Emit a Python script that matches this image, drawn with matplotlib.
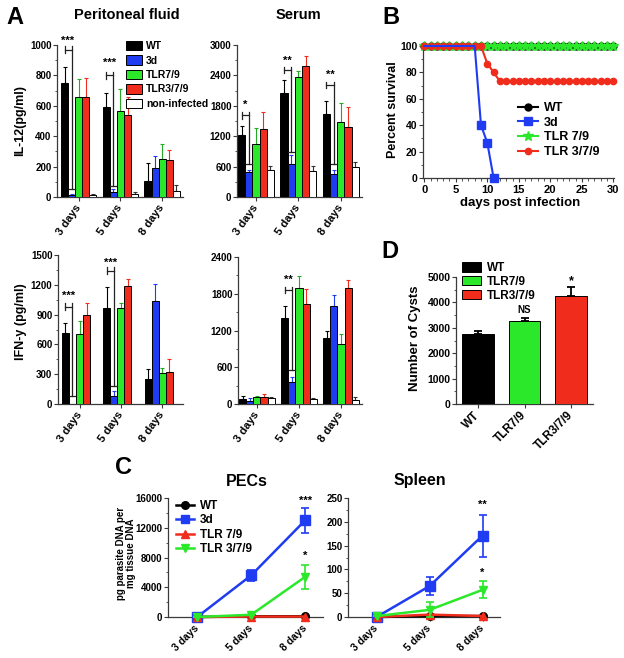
import numpy as np
import matplotlib
matplotlib.use('Agg')
import matplotlib.pyplot as plt
from matplotlib.patches import Patch
from matplotlib.lines import Line2D
from matplotlib.ticker import MultipleLocator

plt.rcParams['font.family'] = ['Liberation Sans', 'DejaVu Sans']
plt.rcParams['font.weight'] = 'bold'
plt.rcParams['axes.labelweight'] = 'bold'

W, H = 624, 658

# ---- panel A: cytokines (rows = groups, cols = days) ----
days = ['3 days', '5 days', '8 days']
groups_a = ['WT', '3d', 'TLR7/9', 'TLR3/7/9', 'non-infected']

il12_pf_mean = [[752, 589, 105], [15, 30, 193], [660, 565, 253], [660, 538, 242], [12, 20, 37]]
il12_pf_sem = [[105, 97, 121], [8, 20, 75], [116, 143, 94], [120, 117, 70], [8, 15, 44]]

il12_serum_mean = [[1220, 2044, 1648], [495, 660, 462], [1055, 2374, 1484], [1338, 2585, 1385], [541, 508, 587]]
il12_serum_sem = [[178, 264, 244], [46, 164, 65], [316, 112, 375], [343, 197, 395], [72, 99, 99]]

ifn_pf_mean = [[718, 963, 252], [0, 80, 1037], [701, 963, 315], [896, 1188, 325], [0, 0, 0]]
ifn_pf_sem = [[94, 211, 97], [0, 54, 171], [135, 57, 44], [124, 70, 125], [0, 0, 0]]

ifn_serum_mean = [[82, 1402, 1075], [55, 365, 1593], [115, 1887, 982], [109, 1631, 1898], [98, 76, 65]]
ifn_serum_sem = [[54, 202, 109], [38, 71, 180], [21, 208, 158], [49, 245, 131], [22, 28, 50]]

# ---- panel B: survival ----
surv_days = [0, 1, 2, 3, 4, 5, 6, 7, 8, 9, 10, 11, 12, 13, 14, 15,
             16, 17, 18, 19, 20, 21, 22, 23, 24, 25, 26, 27, 28, 29, 30]
surv_wt = [100, 100, 100, 100, 100, 100, 100, 100, 100, 100, 100, 100, 100, 100, 100, 100,
           100, 100, 100, 100, 100, 100, 100, 100, 100, 100, 100, 100, 100, 100, 100]
surv_tlr79 = [100, 100, 100, 100, 100, 100, 100, 100, 100, 100, 100, 100, 100, 100, 100, 100,
              100, 100, 100, 100, 100, 100, 100, 100, 100, 100, 100, 100, 100, 100, 100]
surv_tlr379 = [100, 100, 100, 100, 100, 100, 100, 100, 100, 100, 86.7, 80, 73.3, 73.3, 73.3, 73.3,
               73.3, 73.3, 73.3, 73.3, 73.3, 73.3, 73.3, 73.3, 73.3, 73.3, 73.3, 73.3, 73.3, 73.3, 73.3]
surv_3d_days = [0, 1, 2, 3, 4, 5, 6, 7, 8, 9, 10, 11]
surv_3d = [100, 100, 100, 100, 100, 100, 100, 100, 100, 40, 26.7, 0]

# ---- panel C: parasite load ----
pecs_wt = [0, 100, 100]
pecs_3d = [0, 5600, 13000]
pecs_3d_sem = [0, 700, 1700]
pecs_tlr79 = [0, 60, 60]
pecs_tlr379 = [0, 300, 5400]
pecs_tlr379_sem = [0, 0, 1600]

spleen_wt = [0, 2, 2]
spleen_3d = [0, 65, 171]
spleen_3d_sem = [0, 18, 44]
spleen_tlr79 = [0, 5, 2]
spleen_tlr379 = [2, 15, 57]
spleen_tlr379_sem = [0, 16, 18]

# ---- panel D: cysts ----
cyst_groups = ['WT', 'TLR7/9', 'TLR3/7/9']
cyst_mean = [2750, 3260, 4240]
cyst_sem = [110, 130, 360]

BLUE = '#1f3cf2'
GREEN = '#2be82b'
RED = '#f02c1c'
colors_a = ['black', BLUE, GREEN, RED, 'white']
err_colors = ['black', BLUE, '#22aa22', RED, '#333333']

fig = plt.figure(figsize=(W / 100, H / 100), dpi=100)


def add_ax(left, top, right, bottom):
    return fig.add_axes([left / W, 1 - bottom / H, (right - left) / W, (bottom - top) / H])


def prism(ax, size=7):
    ax.spines['top'].set_visible(False)
    ax.spines['right'].set_visible(False)
    for s in ('left', 'bottom'):
        ax.spines[s].set_linewidth(0.9)
        ax.spines[s].set_color('#3a3a3a')
    ax.tick_params(which='major', direction='out', length=3, width=0.8, color='#3a3a3a', labelsize=size, pad=1)
    ax.tick_params(which='minor', direction='out', length=1.8, width=0.6, color='#3a3a3a')


def ftext(x, y, s, **kw):
    return fig.text(x / W, 1 - y / H, s, ha='center', va='center', **kw)


def cytokine_panel(box, means, sems, ymax, ystep, xleft, sigs):
    ax = add_ax(*box)
    prism(ax)
    x = np.arange(len(days))
    w = 0.17
    for i in range(len(groups_a)):
        xs = x + (i - 2) * w
        m = np.array(means[i], dtype=float)
        s = np.array(sems[i], dtype=float)
        ax.bar(xs, m, w, color=colors_a[i], edgecolor='black', linewidth=0.7, zorder=3)
        keep = s > 0
        ax.errorbar(xs[keep], m[keep], yerr=[np.zeros(keep.sum()), s[keep]], fmt='none',
                    ecolor=err_colors[i], elinewidth=0.8, capsize=1.6, capthick=0.8, zorder=2)
    d = ymax * 0.022
    for g, yb, ylow, lab, ylab in sigs:
        x1, x2 = g - 2 * w, g - w
        kw = dict(color='#222222', lw=0.9, zorder=4, clip_on=False)
        ax.plot([x1, x2], [yb, yb], **kw)
        ax.plot([x1, x1], [yb - d, yb + d], **kw)
        ax.plot([x2, x2], [yb + d, ylow], **kw)
        ax.plot([x2 - 0.07, x2 + 0.07], [ylow, ylow], **kw)
        ax.text((x1 + x2) / 2, ylab, lab, ha='center', va='center', fontsize=8)
    ax.set_xlim(xleft, 2.5)
    ax.set_ylim(0, ymax)
    ax.yaxis.set_major_locator(MultipleLocator(ystep))
    ax.yaxis.set_minor_locator(MultipleLocator(ystep / 2))
    ax.set_xticks(x)
    ax.set_xticklabels(days, rotation=55, ha='right', va='center', rotation_mode='anchor', fontsize=8)
    ax.tick_params(axis='x', pad=3)
    return ax


# ---------------- A ----------------
cytokine_panel((57, 45, 183, 197), il12_pf_mean, il12_pf_sem, 1000, 200, -0.52,
               [(0, 970, 50, '***', 1030), (1, 800, 75, '***', 885)])
cytokine_panel((237, 45, 362, 197), il12_serum_mean, il12_serum_sem, 3000, 600, -0.45,
               [(0, 1615, 660, '*', 1810), (1, 2505, 890, '**', 2690), (2, 2209, 660, '**', 2410)])
cytokine_panel((58, 255, 183, 404), ifn_pf_mean, ifn_pf_sem, 1500, 300, -0.52,
               [(0, 980, 80, '***', 1090), (1, 1342, 185, '***', 1425)])
cytokine_panel((238, 257, 362, 404), ifn_serum_mean, ifn_serum_sem, 2400, 600, -0.45,
               [(1, 1865, 556, '**', 2020)])

ftext(15, 17, 'A', fontsize=17)
ftext(127, 15, 'Peritoneal fluid', fontsize=10.5)
ftext(298, 15, 'Serum', fontsize=10.5)
ftext(20, 121, 'IL-12(pg/ml)', rotation=90, fontsize=9)
ftext(21, 322, 'IFN-y (pg/ml)', rotation=90, fontsize=9)

handles_a = [Patch(facecolor=c, edgecolor='black', linewidth=0.7) for c in colors_a]
fig.legend(handles_a, groups_a, loc='upper left', bbox_to_anchor=(126 / W, 1 - 41 / H),
           frameon=False, fontsize=7.5, handlelength=1.5, handleheight=1.0,
           labelspacing=0.4, handletextpad=0.4, borderpad=0, borderaxespad=0)

# ---------------- B ----------------
axb = add_ax(423, 46, 614, 178)
prism(axb, 7.5)
axb.plot(surv_days, surv_wt, color='black', marker='o', ms=5, lw=1.5, zorder=2, clip_on=False)
axb.plot(surv_days, surv_tlr79, color=GREEN, marker='*', ms=7, lw=1.5, zorder=3, clip_on=False)
axb.plot(surv_days, surv_tlr379, color=RED, marker='o', ms=4.5, lw=1.5, zorder=4, clip_on=False)
axb.plot(surv_3d_days, surv_3d, color=BLUE, marker='s', ms=6, lw=1.5, zorder=5,
         markevery=[9, 10, 11], clip_on=False)
axb.set_xlim(-0.2, 30.1)
axb.set_ylim(0, 100)
axb.xaxis.set_major_locator(MultipleLocator(5))
axb.xaxis.set_minor_locator(MultipleLocator(1))
axb.yaxis.set_major_locator(MultipleLocator(20))
axb.yaxis.set_minor_locator(MultipleLocator(10))
axb.tick_params(axis='x', pad=2, labelsize=8)
ftext(520, 203, 'days post infection', fontsize=9.5)
ftext(393, 110, 'Percent survival', rotation=90, fontsize=9)
ftext(391, 18, 'B', fontsize=17)
handles_b = [Line2D([], [], color='black', marker='o', ms=5, lw=1.5),
             Line2D([], [], color=BLUE, marker='s', ms=6, lw=1.5),
             Line2D([], [], color=GREEN, marker='*', ms=7, lw=1.5),
             Line2D([], [], color=RED, marker='o', ms=4.5, lw=1.5)]
fig.legend(handles_b, ['WT', '3d', 'TLR 7/9', 'TLR 3/7/9'], loc='upper left',
           bbox_to_anchor=(518 / W, 1 - 102 / H), frameon=False, fontsize=9,
           handlelength=1.6, labelspacing=0.22, handletextpad=0.5, borderpad=0, borderaxespad=0)

# ---------------- D ----------------
axd = add_ax(456, 277, 593, 404)
prism(axd, 7.5)
xd = np.arange(len(cyst_groups))
axd.bar(xd, cyst_mean, 0.67, color=['black', GREEN, RED], edgecolor='black', linewidth=0.7, zorder=3)
axd.errorbar(xd, cyst_mean, yerr=[np.zeros(len(xd)), cyst_sem], fmt='none', ecolor='black',
             elinewidth=1.3, capsize=3, capthick=1.3, zorder=2)
axd.text(1, 3720, 'NS', ha='center', va='center', fontsize=7)
axd.text(2, 4840, '*', ha='center', va='center', fontsize=9)
axd.set_xlim(-0.47, 2.47)
axd.set_ylim(0, 5000)
axd.yaxis.set_major_locator(MultipleLocator(1000))
axd.yaxis.set_minor_locator(MultipleLocator(500))
axd.set_xticks(xd)
axd.set_xticklabels(cyst_groups, rotation=45, ha='right', va='center', rotation_mode='anchor', fontsize=8.5)
axd.tick_params(axis='x', pad=4)
ftext(415, 338, 'Number of Cysts', rotation=90, fontsize=9.5)
ftext(390, 251, 'D', fontsize=17)
handles_d = [Patch(facecolor=c, edgecolor='black', linewidth=0.7) for c in ['black', GREEN, RED]]
fig.legend(handles_d, cyst_groups, loc='upper left', bbox_to_anchor=(462 / W, 1 - 262 / H),
           frameon=False, fontsize=8.5, handlelength=1.6, handleheight=0.85,
           labelspacing=0.15, handletextpad=0.5, borderpad=0, borderaxespad=0)


# ---------------- C ----------------
def load_panel(box, wt, d3, d3_sem, t79, t379, t379_sem, ymax, ystep, stars, title, tx):
    ax = add_ax(*box)
    prism(ax, 7)
    x = np.arange(len(days))
    ax.plot(x, wt, color='black', marker='o', ms=5.5, lw=1.8, zorder=3, clip_on=False)
    ax.errorbar(x, d3, yerr=d3_sem, color=BLUE, marker='s', ms=7, lw=1.8, elinewidth=1.2,
                capsize=3, capthick=1.2, zorder=4, clip_on=False)
    ax.plot(x, t79, color=RED, marker='^', ms=5.5, lw=1.8, zorder=5, clip_on=False)
    ax.errorbar(x, t379, yerr=t379_sem, color=GREEN, marker='v', ms=6, lw=1.8, elinewidth=1.2,
                capsize=3, capthick=1.2, zorder=6, clip_on=False)
    for lab, y in stars:
        ax.text(2, y, lab, ha='center', va='center', fontsize=8)
    ax.set_xlim(-0.54, 2.33)
    ax.set_ylim(0, ymax)
    ax.yaxis.set_major_locator(MultipleLocator(ystep))
    ax.yaxis.set_minor_locator(MultipleLocator(ystep / 2))
    ax.set_xticks(x)
    ax.set_xticklabels(days, rotation=45, ha='right', va='center', rotation_mode='anchor', fontsize=7.5)
    ax.tick_params(axis='x', pad=4)
    ftext(tx, 481, title, fontsize=11.5)
    return ax


load_panel((168, 498, 323, 617), pecs_wt, pecs_3d, pecs_3d_sem, pecs_tlr79, pecs_tlr379,
           pecs_tlr379_sem, 16000, 4000, [('***', 15600), ('*', 8200)], 'PECs', 247)
load_panel((348, 498, 500, 617), spleen_wt, spleen_3d, spleen_3d_sem, spleen_tlr79, spleen_tlr379,
           spleen_tlr379_sem, 250, 50, [('**', 236), ('*', 93)], 'Spleen', 420)
ftext(126, 553, 'pg parasite DNA per\nmg tissue DNA', rotation=90, fontsize=7, linespacing=1.0)
ftext(124, 467, 'C', fontsize=17)
handles_c = [Line2D([], [], color='black', marker='o', ms=5.5, lw=1.8),
             Line2D([], [], color=BLUE, marker='s', ms=6, lw=1.8),
             Line2D([], [], color=RED, marker='^', ms=5.5, lw=1.8),
             Line2D([], [], color=GREEN, marker='v', ms=6, lw=1.8)]
fig.legend(handles_c, ['WT', '3d', 'TLR 7/9', 'TLR 3/7/9'], loc='upper left',
           bbox_to_anchor=(176 / W, 1 - 500 / H), frameon=False, fontsize=8.5,
           handlelength=1.5, labelspacing=0.2, handletextpad=0.5, borderpad=0, borderaxespad=0)

fig.savefig('out.png', dpi=100)
